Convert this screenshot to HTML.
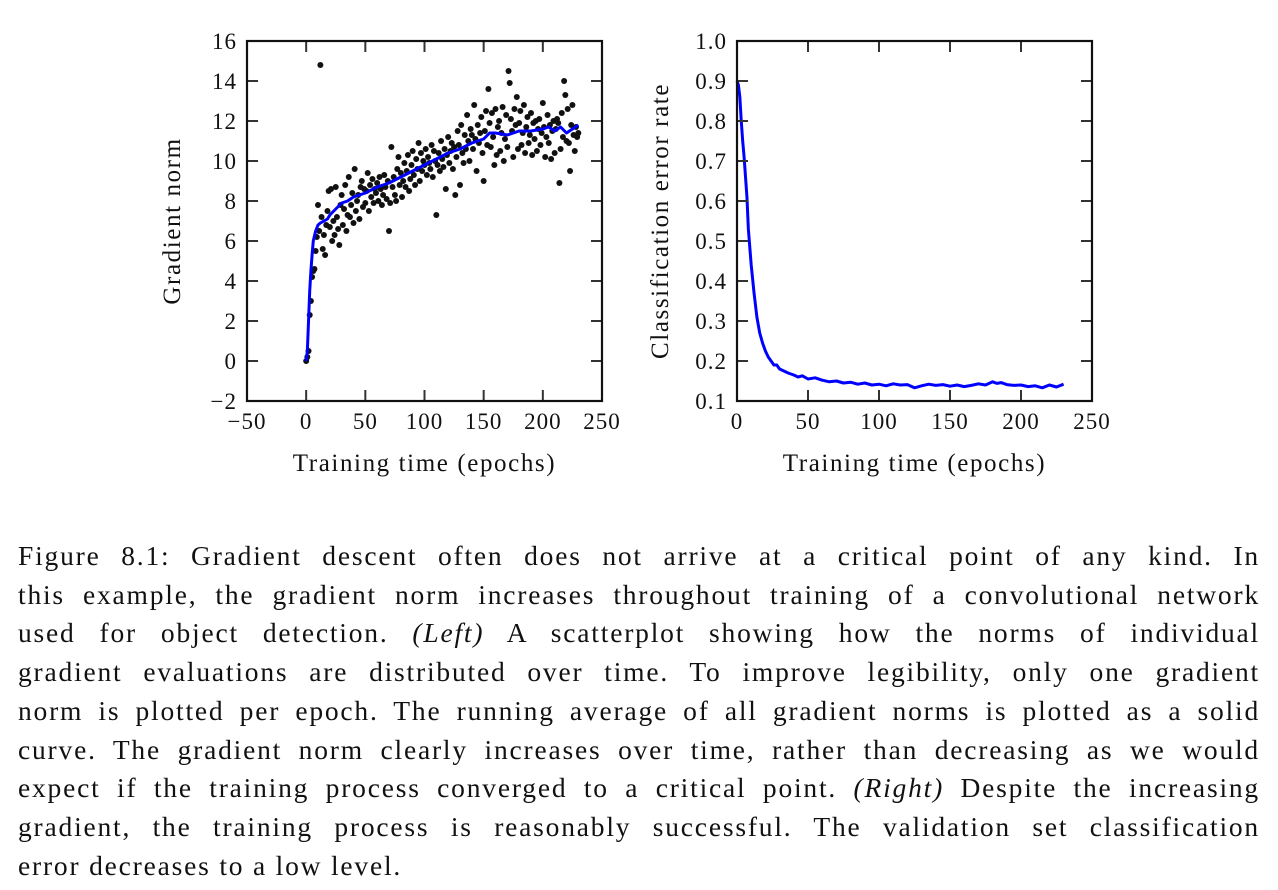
<!DOCTYPE html>
<html><head><meta charset="utf-8"><style>
html,body{margin:0;padding:0;background:#fff;width:1278px;height:890px;overflow:hidden}
svg{position:absolute;left:0;top:0}
.cap{position:absolute;left:18px;width:1242px;font-family:"Liberation Serif",serif;font-size:27.5px;letter-spacing:1.8px;color:#111;text-align:justify;text-align-last:justify;white-space:nowrap;height:39px;line-height:39px}
.cap i{font-style:italic}
</style></head><body>
<svg id="fig" width="1278" height="520"></svg>
<div>
<div class="cap" style="top:536px">Figure 8.1: Gradient descent often does not arrive at a critical point of any kind. In</div>
<div class="cap" style="top:575px">this example, the gradient norm increases throughout training of a convolutional network</div>
<div class="cap" style="top:613px">used for object detection. <i>(Left)</i> A scatterplot showing how the norms of individual</div>
<div class="cap" style="top:652px">gradient evaluations are distributed over time. To improve legibility, only one gradient</div>
<div class="cap" style="top:691px">norm is plotted per epoch. The running average of all gradient norms is plotted as a solid</div>
<div class="cap" style="top:730px">curve. The gradient norm clearly increases over time, rather than decreasing as we would</div>
<div class="cap" style="top:768px">expect if the training process converged to a critical point. <i>(Right)</i> Despite the increasing</div>
<div class="cap" style="top:807px">gradient, the training process is reasonably successful. The validation set classification</div>
<div class="cap" style="top:846px;text-align-last:left">error decreases to a low level.</div>
</div>
<script>
const scatterNorms=[0,0.2,0.5,2.3,3,4.2,4.5,4.6,5.5,6.2,
7.8,6.5,14.8,7.2,5.6,6.3,5.3,6.8,7.5,8.5,
6.7,8.6,6.0,7.0,6.3,8.7,7.2,6.6,5.8,7.8,
8.3,6.8,7.6,8.8,6.5,7.3,9.2,7.2,7.8,8.4,
6.9,9.6,7.5,8.0,8.3,7.1,8.7,9.0,7.7,8.6,
7.9,8.5,9.4,7.5,8.8,8.2,9.1,7.9,8.6,8.4,
8.9,8.0,9.2,8.6,7.8,8.3,9.3,8.7,8.1,9.0,
6.5,7.9,10.7,8.7,9.2,8.3,8.0,9.6,10.2,8.8,
9.4,8.2,9.0,9.9,8.7,9.5,10.3,8.5,9.1,9.8,
10.5,9.3,8.8,10.1,9.6,10.9,9.0,10.4,9.5,10.0,
9.8,10.6,9.3,10.2,9.9,9.6,10.8,9.2,10.5,10.0,
7.3,9.8,10.4,9.5,11.0,10.1,9.7,10.6,8.6,10.3,
11.2,9.9,10.5,10.9,9.6,10.7,8.3,10.2,11.5,10.8,
8.8,11.8,10.4,9.9,11.3,10.6,12.3,11.0,10.0,11.6,
11.3,10.6,12.8,11.1,9.5,11.8,10.9,11.4,12.2,10.4,
9.0,11.5,12.5,10.8,13.6,11.9,10.7,12.4,11.2,9.8,
12.6,10.3,11.7,12.0,10.5,11.4,12.7,10.0,11.1,12.3,
10.7,14.5,13.9,12.1,11.5,10.2,12.6,11.8,13.2,10.6,
11.9,12.5,10.8,11.4,12.8,10.4,11.7,12.2,10.9,11.3,
12.4,10.3,11.9,11.1,12.0,10.5,11.6,12.1,10.8,11.4,
12.9,11.7,10.2,11.2,12.3,10.9,11.8,10.1,11.5,12.0,
10.4,11.6,12.1,11.9,8.9,10.6,12.4,11.2,14.0,13.3,
11.0,12.6,10.9,9.5,11.8,12.8,11.3,10.5,11.7,11.2,11.4];
const avgEpochs=[0,1,2,3,4,5,6,8,10,12,15,18,20,25,30,35,40,45,50,60,70,80,90,100,110,120,130,140,150,155,160,170,180,190,200,205,210,215,220,225,230];
const avgNorms=[0,0.5,2,3.5,4.5,5.3,6,6.5,6.8,6.9,7.0,7.1,7.3,7.6,7.9,8.0,8.2,8.3,8.4,8.7,8.9,9.2,9.5,9.8,10.1,10.4,10.6,10.9,11.1,11.4,11.4,11.3,11.5,11.5,11.6,11.7,11.5,11.7,11.4,11.6,11.8];
const errEpochs=[0,1,2,3,4,5,6,7,8,10,12,14,16,18,20,22,24,26,28,30,33,36,40,43,46,50,55,60,65,70,75,80,85,90,95,100,105,110,115,120,125,130,135,140,145,150,155,160,165,170,175,180,183,186,190,195,200,205,210,215,220,225,230];
const errRates=[0.90,0.89,0.86,0.80,0.75,0.71,0.66,0.61,0.53,0.44,0.37,0.31,0.27,0.245,0.225,0.21,0.20,0.19,0.19,0.18,0.175,0.17,0.165,0.16,0.163,0.155,0.158,0.152,0.148,0.15,0.145,0.147,0.142,0.145,0.14,0.142,0.138,0.143,0.14,0.141,0.133,0.138,0.142,0.139,0.141,0.137,0.14,0.136,0.139,0.143,0.14,0.148,0.144,0.146,0.141,0.139,0.14,0.136,0.138,0.133,0.14,0.135,0.142];
const leftXTicks=[-50,0,50,100,150,200,250];
const leftYTicks=[-2,0,2,4,6,8,10,12,14,16];
const rightXTicks=[0,50,100,150,200,250];
const rightYTicks=[0.1,0.2,0.3,0.4,0.5,0.6,0.7,0.8,0.9,1.0];

const NS='http://www.w3.org/2000/svg';
const svg=document.getElementById('fig');
function mk(tag,attrs,parent){const e=document.createElementNS(NS,tag);for(const k in attrs)e.setAttribute(k,attrs[k]);(parent||svg).appendChild(e);return e;}
function scale(d0,d1,r0,r1){return v=>r0+(v-d0)/(d1-d0)*(r1-r0);}
const FONT='"Liberation Serif",serif';

function axes(name,x0,x1,y0,y1,xs,ys,xt,yt,fmtY,xtitle,ytitle,ytitleX){
  const g=mk('g',{});
  
  
  xt.forEach(t=>{const x=xs(t);
    if(x>x0+1&&x<x1-1){mk('line',{x1:x,x2:x,y1:y1,y2:y1-11,stroke:'#333','stroke-width':2},g);mk('line',{x1:x,x2:x,y1:y0,y2:y0+11,stroke:'#333','stroke-width':2},g);}
    const tx=mk('text',{x:x,y:y1+28,'text-anchor':'middle','font-family':FONT,'font-size':23,'letter-spacing':1,fill:'#111'},g);
    tx.textContent=t<0?'\u2212'+Math.abs(t):String(t);
    
    
  });
  yt.forEach(t=>{const y=ys(t);
    if(y>y0+1&&y<y1-1){mk('line',{x1:x0,x2:x0+11,y1:y,y2:y,stroke:'#333','stroke-width':2},g);mk('line',{x1:x1,x2:x1-11,y1:y,y2:y,stroke:'#333','stroke-width':2},g);}
    const tx=mk('text',{x:x0-10,y:y+8,'text-anchor':'end','font-family':FONT,'font-size':23,'letter-spacing':1,fill:'#111'},g);
    tx.textContent=fmtY(t);
    
    
  });
  mk('rect',{x:x0,y:y0,width:x1-x0,height:y1-y0,fill:'none',stroke:'#111','stroke-width':2.2},g);
  const xl=mk('text',{x:(x0+x1)/2,y:471,'text-anchor':'middle','font-family':FONT,'font-size':25,'letter-spacing':1.6,fill:'#111'},g);
  xl.textContent=xtitle;
  
  
  const yl=mk('text',{x:0,y:0,'text-anchor':'middle','font-family':FONT,'font-size':25,'letter-spacing':1.6,fill:'#111',transform:`translate(${ytitleX},${(y0+y1)/2}) rotate(-90)`},g);
  yl.textContent=ytitle;
  
  
}

// Left chart
const lx=scale(-50,250,247,602), ly=scale(-2,16,401,41);
const lg=mk('g',{});


scatterNorms.forEach((v,i)=>{const c=mk('circle',{cx:lx(i),cy:ly(v),r:3,fill:'#111'},lg);
  
  });
const la=mk('polyline',{points:avgEpochs.map((e,i)=>lx(e)+','+ly(avgNorms[i])).join(' '),fill:'none',stroke:'#0000ff','stroke-width':3,'stroke-linejoin':'round'});


axes('left',247,602,41,401,lx,ly,leftXTicks,leftYTicks,t=>t<0?'\u2212'+Math.abs(t):String(t),'Training time (epochs)','Gradient norm',180);

// Right chart
const rx=scale(0,250,737,1092), ry=scale(0.1,1.0,401,41);
const rl=mk('polyline',{points:errEpochs.map((e,i)=>rx(e)+','+ry(errRates[i])).join(' '),fill:'none',stroke:'#0000ff','stroke-width':3,'stroke-linejoin':'round'});


axes('right',737,1092,41,401,rx,ry,rightXTicks,rightYTicks,t=>t.toFixed(1),'Training time (epochs)','Classification error rate',668);
</script>
</body></html>
